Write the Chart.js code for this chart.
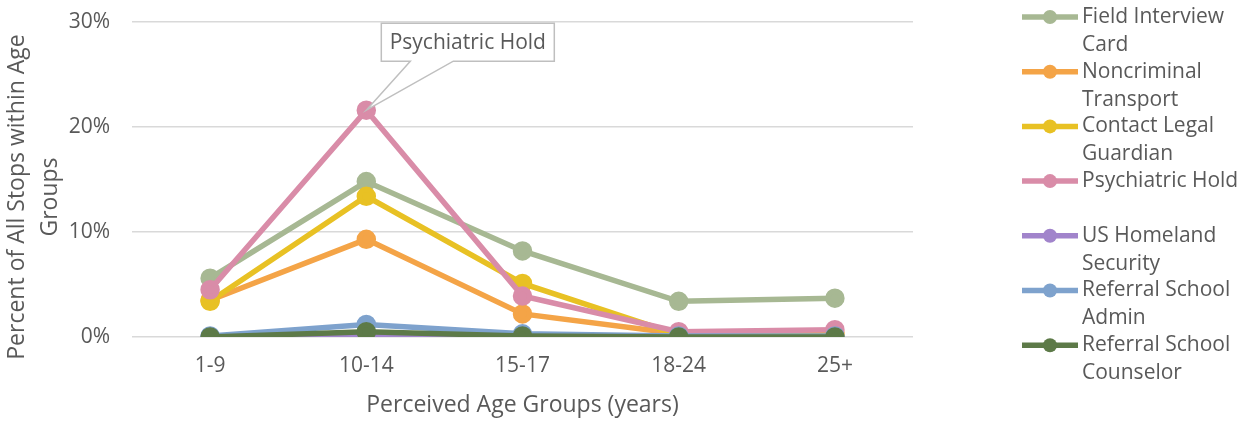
<!DOCTYPE html>
<html>
<head>
<meta charset="utf-8">
<script src="https://cdn.jsdelivr.net/npm/chart.js@4.4.1/dist/chart.umd.min.js"></script>
<style>
  html, body { margin: 0; padding: 0; background: #fff; }
  #wrap { width: 1248px; height: 421px; }
</style>
</head>
<body>
<div id="wrap"><canvas id="chart" width="1248" height="421"></canvas></div>
<script>
const ageGroups = ['1-9', '10-14', '15-17', '18-24', '25+']

const seriesNames = [
  ['Field Interview', 'Card'],
  ['Noncriminal', 'Transport'],
  ['Contact Legal', 'Guardian'],
  ['Psychiatric Hold', ''],
  ['US Homeland', 'Security'],
  ['Referral School', 'Admin'],
  ['Referral School', 'Counselor']
]

const fieldInterview  = [5.6, 14.8, 8.2, 3.4, 3.7]
const noncriminal     = [3.5, 9.3, 2.2, 0.3, 0.4]
const legalGuardian   = [3.4, 13.4, 5.1, 0.2, 0.2]
const psychiatricHold = [4.5, 21.6, 3.9, 0.5, 0.7]
const homeland        = [0.0, 0.1, 0.0, 0.0, 0.0]
const schoolAdmin     = [0.1, 1.2, 0.3, 0.1, 0.1]
const schoolCounselor = [0.0, 0.5, 0.1, 0.0, 0.0]

const seriesValues = [fieldInterview, noncriminal, legalGuardian, psychiatricHold, homeland, schoolAdmin, schoolCounselor]
const seriesColors = ['#A7B893', '#F4A447', '#E8C124', '#D98CA8', '#A184CB', '#7EA2CD', '#5D7A48']

const yTicks = [0, 10, 20, 30]
const yTitle = ['Percent of All Stops within Age', 'Groups']

const FONT = '"Open Sans", "Liberation Sans", sans-serif'
const TEXT = '#595959'

// custom legend on the right, two text lines per entry like the original
const sideLegend = {
  id: 'sideLegend',
  afterDraw(chart) {
    const ctx = chart.ctx
    ctx.save()
    ctx.font = `21px ${FONT}`
    ctx.textBaseline = 'middle'
    chart.data.datasets.forEach((ds, i) => {
      const y = 17 + i * 54.7
      ctx.strokeStyle = ds.borderColor
      ctx.lineWidth = 5.5
      ctx.beginPath()
      ctx.moveTo(1022, y)
      ctx.lineTo(1078, y)
      ctx.stroke()
      ctx.fillStyle = ds.borderColor
      ctx.beginPath()
      ctx.arc(1050, y, 7, 0, Math.PI * 2)
      ctx.fill()
      ctx.fillStyle = TEXT
      ctx.fillText(seriesNames[i][0], 1082, y)
      if (seriesNames[i][1]) ctx.fillText(seriesNames[i][1], 1082, y + 28)
    })
    ctx.restore()
  }
}

// rotated y-axis title, sitting a bit below the plot middle as in the original
const yAxisTitle = {
  id: 'yAxisTitle',
  afterDraw(chart) {
    const ctx = chart.ctx
    ctx.save()
    ctx.font = `23px ${FONT}`
    ctx.fillStyle = TEXT
    ctx.textAlign = 'center'
    ctx.textBaseline = 'middle'
    ctx.translate(0, 197)
    ctx.rotate(-Math.PI / 2)
    ctx.fillText(yTitle[0], 0, 17)
    ctx.fillText(yTitle[1], 0, 50)
    ctx.restore()
  }
}

// callout label on the Psychiatric Hold peak
const callout = {
  id: 'callout',
  afterDatasetsDraw(chart) {
    const pt = chart.getDatasetMeta(3).data[1]
    if (!pt) return
    const ctx = chart.ctx
    const bx = pt.x + 15, by = pt.y - 87, bw = 173, bh = 38
    ctx.save()
    ctx.strokeStyle = '#BFBFBF'
    ctx.lineWidth = 1.5
    ctx.fillStyle = '#fff'
    ctx.beginPath()
    ctx.moveTo(pt.x, pt.y)
    ctx.lineTo(bx + 29, by + bh)
    ctx.lineTo(bx, by + bh)
    ctx.lineTo(bx, by)
    ctx.lineTo(bx + bw, by)
    ctx.lineTo(bx + bw, by + bh)
    ctx.lineTo(bx + 72, by + bh)
    ctx.closePath()
    ctx.fill()
    ctx.stroke()
    ctx.font = `21px ${FONT}`
    ctx.fillStyle = TEXT
    ctx.textAlign = 'center'
    ctx.textBaseline = 'middle'
    ctx.fillText('Psychiatric Hold', bx + bw / 2, by + bh / 2 + 1)
    ctx.restore()
  }
}

new Chart(document.getElementById('chart'), {
  type: 'line',
  data: {
    labels: ageGroups,
    datasets: seriesValues.map((vals, i) => ({
      label: seriesNames[i].join(' ').trim(),
      data: vals,
      borderColor: seriesColors[i],
      backgroundColor: seriesColors[i],
      pointBackgroundColor: seriesColors[i],
      pointBorderColor: seriesColors[i],
      borderWidth: 5.5,
      pointRadius: 7,
      tension: 0,
      order: seriesValues.length - i
    }))
  },
  options: {
    responsive: false,
    animation: false,
    layout: { padding: { left: 0, right: 335, top: 22, bottom: 0 } },
    plugins: {
      legend: { display: false },
      tooltip: { enabled: false }
    },
    scales: {
      x: {
        offset: true,
        grid: { display: false, drawTicks: false },
        border: { display: false },
        ticks: { color: TEXT, font: { family: FONT, size: 21 }, padding: 16 },
        title: {
          display: true,
          text: 'Perceived Age Groups (years)',
          color: TEXT,
          font: { family: FONT, size: 23 },
          padding: { top: 0, bottom: 2 }
        },
        afterFit: (s) => { s.height = 84 }
      },
      y: {
        min: yTicks[0],
        max: yTicks[yTicks.length - 1],
        afterBuildTicks: (s) => { s.ticks = yTicks.map(v => ({ value: v })) },
        grid: { color: '#D9D9D9', lineWidth: 1.5, drawTicks: false },
        border: { display: false },
        ticks: {
          color: TEXT,
          font: { family: FONT, size: 21 },
          padding: 22,
          callback: (v) => v + '%'
        },
        afterFit: (s) => { s.width = 132; s.paddingTop = 0; s.paddingBottom = 0 }
      }
    }
  },
  plugins: [callout, sideLegend, yAxisTitle]
})
</script>
</body>
</html>
